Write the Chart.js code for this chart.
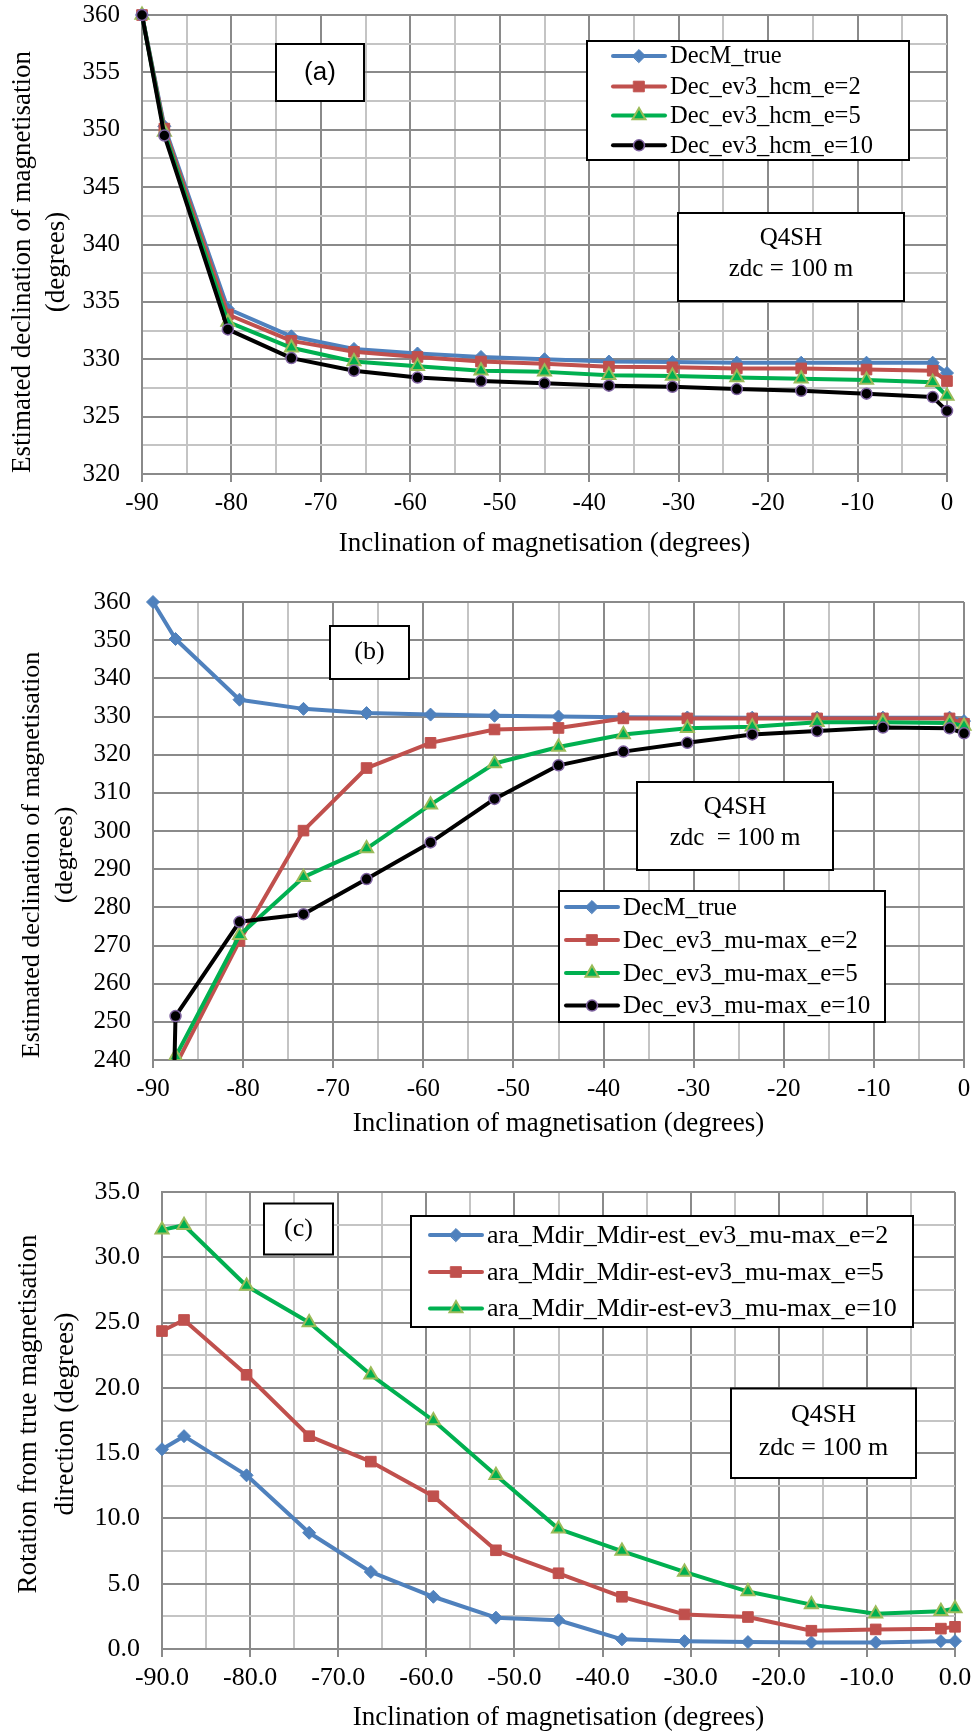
<!DOCTYPE html>
<html>
<head>
<meta charset="utf-8">
<script src="https://cdn.jsdelivr.net/npm/chart.js"></script>
<style>
  body { margin: 0; background: #fff; }
  .wrap { position: relative; width: 975px; height: 1734px; }
  canvas { position: absolute; left: 0; }
</style>
</head>
<body>
<div class="wrap">
  <canvas id="chartA" width="975" height="560" style="top:0"></canvas>
  <canvas id="chartB" width="975" height="580" style="top:560px"></canvas>
  <canvas id="chartC" width="975" height="594" style="top:1140px"></canvas>
</div>
<script>
// inclination of magnetisation, shared by all panels
const inclination = [-90, -87.5, -80.4, -73.3, -66.3, -59.2, -52.1, -45, -37.8, -30.7, -23.5, -16.3, -9.0, -1.6, 0];

// panel (a) - declination, hcm
const decTrue = [360, 350.3, 334.4, 332.0, 330.9, 330.5, 330.2, 330.0, 329.8, 329.75, 329.7, 329.7, 329.7, 329.7, 328.8];
const hcmE2   = [360, 350.1, 333.9, 331.6, 330.65, 330.2, 329.8, 329.6, 329.35, 329.3, 329.2, 329.2, 329.1, 329.0, 328.1];
const hcmE5   = [360, 349.8, 333.25, 331.0, 329.8, 329.4, 329.0, 328.9, 328.6, 328.55, 328.4, 328.3, 328.2, 328.0, 326.8];
const hcmE10  = [360, 349.5, 332.6, 330.1, 329.0, 328.4, 328.1, 327.9, 327.7, 327.6, 327.4, 327.25, 327.0, 326.7, 325.5];

// panel (b) - declination, mu-max
const muE2  = [0, 238.5, 271.2, 300.1, 316.5, 323.1, 326.6, 327.0, 329.5, 329.5, 329.5, 329.5, 329.5, 329.5, 328.1];
const muE5  = [0, 240.9, 272.7, 287.9, 295.4, 306.9, 317.7, 322.0, 325.3, 326.9, 327.3, 328.5, 328.5, 328.3, 327.5];
const muE10 = [0, 251.5, 276.2, 278.2, 287.4, 297.0, 308.4, 317.2, 320.8, 323.1, 325.3, 326.2, 327.1, 326.9, 325.6];

// panel (c) - rotation from true direction
const araE2  = [15.3, 16.3, 13.3, 8.9, 5.9, 4.0, 2.4, 2.2, 0.74, 0.6, 0.53, 0.5, 0.5, 0.6, 0.6];
const araE5  = [24.35, 25.2, 21.0, 16.3, 14.35, 11.7, 7.56, 5.8, 4.0, 2.65, 2.45, 1.4, 1.5, 1.56, 1.7];
const araE10 = [32.1, 32.45, 27.8, 25.0, 21.0, 17.5, 13.3, 9.2, 7.5, 5.9, 4.4, 3.4, 2.7, 2.9, 3.1];

const SERIF = '"Liberation Serif", "Times New Roman", serif';
const MAJOR = '#8a8a8a';
const MINOR = '#c4c4c4';

const styles = {
  blue:  { color: '#4F81BD', pointStyle: 'rectRot', radius: 6.5, fill: '#4F81BD', edge: '#4F81BD', edgeW: 1, order: 4 },
  red:   { color: '#C0504D', pointStyle: 'rect', radius: 7.5, fill: '#C0504D', edge: '#C0504D', edgeW: 1, order: 3 },
  green: { color: '#00B050', pointStyle: 'triangle', radius: 7.5, fill: '#00B050', edge: '#9BBB59', edgeW: 2, order: 2 },
  black: { color: '#000000', pointStyle: 'circle', radius: 5.5, fill: '#000000', edge: '#8064A2', edgeW: 1.5, order: 1 }
};

function series(label, values, kind, clip) {
  const s = styles[kind];
  return {
    label: label,
    data: values.map((v, i) => ({ x: inclination[i], y: v })),
    borderColor: s.color,
    backgroundColor: s.fill,
    borderWidth: 4,
    borderJoinStyle: 'round',
    borderCapStyle: 'round',
    tension: 0,
    pointStyle: s.pointStyle,
    pointRadius: s.radius,
    pointBackgroundColor: s.fill,
    pointBorderColor: s.edge,
    pointBorderWidth: s.edgeW,
    order: s.order,
    clip: clip
  };
}

function xAxis(decimals, fontSize, height) {
  return {
    type: 'linear', min: -90, max: 0,
    ticks: {
      stepSize: 5, autoSkip: false, maxRotation: 0, padding: 6, color: '#000',
      font: { family: SERIF, size: fontSize },
      callback: v => v % 10 === 0 ? (decimals ? v.toFixed(1) : String(v)) : ''
    },
    grid: {
      color: c => c.tick && c.tick.value % 10 === 0 ? MAJOR : MINOR,
      lineWidth: 2, tickLength: 8,
      tickColor: c => c.tick && c.tick.value % 10 === 0 ? MAJOR : 'rgba(0,0,0,0)'
    },
    border: { color: MAJOR, width: 2 },
    title: {
      display: true, text: 'Inclination of magnetisation (degrees)', color: '#000',
      font: { family: SERIF, size: 27 }, padding: 0
    },
    afterFit: s => { s.height = height; s.paddingLeft = 0; s.paddingRight = 0; }
  };
}

function yAxis(min, max, step, major, decimals, fontSize, width) {
  return {
    type: 'linear', min: min, max: max,
    ticks: {
      stepSize: step, autoSkip: false, padding: 22, color: '#000',
      font: { family: SERIF, size: fontSize, lineHeight: 1 },
      callback: v => v % major === 0 ? (decimals ? v.toFixed(1) : String(v)) : ''
    },
    grid: {
      color: c => c.tick && c.tick.value % major === 0 ? MAJOR : MINOR,
      lineWidth: 2, drawTicks: false
    },
    border: { color: MAJOR, width: 2 },
    afterFit: s => { s.width = width; s.paddingTop = 0; s.paddingBottom = 0; }
  };
}

// boxes, legend and the two-line y title
const overlay = {
  id: 'overlay',
  afterDraw(chart, args, o) {
    const ctx = chart.ctx;
    ctx.save();
    ctx.textAlign = 'center';
    ctx.textBaseline = 'middle';
    ctx.fillStyle = '#000';

    // y title
    ctx.font = o.yTitle.size + 'px ' + SERIF;
    o.yTitle.lines.forEach((t, i) => {
      ctx.save();
      ctx.translate(o.yTitle.xs[i], o.yTitle.cy);
      ctx.rotate(-Math.PI / 2);
      ctx.fillText(t, 0, 0);
      ctx.restore();
    });

    // text boxes
    o.boxes.forEach(b => {
      ctx.fillStyle = '#fff';
      ctx.fillRect(b.x, b.y, b.w, b.h);
      ctx.strokeStyle = '#000';
      ctx.lineWidth = 2;
      ctx.strokeRect(b.x, b.y, b.w, b.h);
      ctx.fillStyle = '#000';
      ctx.font = b.font;
      b.lines.forEach((t, i) => ctx.fillText(t, b.x + b.w / 2, b.ys[i]));
    });

    // legend
    const L = o.legend;
    ctx.fillStyle = '#fff';
    ctx.fillRect(L.x, L.y, L.w, L.h);
    ctx.strokeStyle = '#000';
    ctx.lineWidth = 2;
    ctx.strokeRect(L.x, L.y, L.w, L.h);
    ctx.textAlign = 'left';
    ctx.font = L.size + 'px ' + SERIF;
    chart.data.datasets.forEach((ds, i) => {
      const y = L.rows[i];
      ctx.strokeStyle = ds.borderColor;
      ctx.lineWidth = ds.borderWidth;
      ctx.lineCap = 'round';
      ctx.beginPath();
      ctx.moveTo(L.x0, y);
      ctx.lineTo(L.x1, y);
      ctx.stroke();
      ctx.fillStyle = ds.pointBackgroundColor;
      ctx.strokeStyle = ds.pointBorderColor;
      ctx.lineWidth = ds.pointBorderWidth;
      Chart.helpers.drawPoint(ctx, {
        pointStyle: ds.pointStyle, radius: ds.pointRadius,
        borderWidth: ds.pointBorderWidth, rotation: 0
      }, (L.x0 + L.x1) / 2, y);
      ctx.fillStyle = '#000';
      ctx.fillText(ds.label, L.tx, y + 1);
    });
    ctx.restore();
  }
};

function makeChart(id, datasets, scales, padding, ov) {
  return new Chart(document.getElementById(id), {
    type: 'line',
    data: { datasets: datasets },
    options: {
      responsive: false,
      animation: false,
      devicePixelRatio: 1,
      layout: { padding: padding },
      scales: scales,
      plugins: { legend: { display: false }, tooltip: { enabled: false }, overlay: ov }
    },
    plugins: [overlay]
  });
}

// (a)
makeChart('chartA', [
  series('DecM_true', decTrue, 'blue', false),
  series('Dec_ev3_hcm_e=2', hcmE2, 'red', false),
  series('Dec_ev3_hcm_e=5', hcmE5, 'green', false),
  series('Dec_ev3_hcm_e=10', hcmE10, 'black', false)
], {
  x: xAxis(false, 25, 86),
  y: yAxis(320, 360, 2.5, 5, false, 25, 142)
}, { top: 15, right: 28, left: 0, bottom: 0 }, {
  yTitle: { lines: ['Estimated declination of magnetisation', '(degrees)'], xs: [22.5, 57], cy: 262, size: 27 },
  boxes: [
    { x: 276, y: 44, w: 88, h: 57, lines: ['(a)'], ys: [72.5], font: '26px "Liberation Sans", Arial, sans-serif' },
    { x: 678, y: 213, w: 226, h: 88, lines: ['Q4SH', 'zdc = 100 m'], ys: [238, 269], font: '25px ' + SERIF }
  ],
  legend: { x: 587, y: 41, w: 322, h: 119, rows: [56, 86.5, 115.5, 145.3], x0: 613, x1: 665, tx: 670, size: 24.5 }
});

// (b)
const clipB = { left: 20, top: 20, right: 20, bottom: 0 };
makeChart('chartB', [
  series('DecM_true', decTrue, 'blue', clipB),
  series('Dec_ev3_mu-max_e=2', muE2, 'red', clipB),
  series('Dec_ev3_mu-max_e=5', muE5, 'green', clipB),
  series('Dec_ev3_mu-max_e=10', muE10, 'black', clipB)
], {
  x: xAxis(false, 25, 80),
  y: yAxis(240, 360, 10, 10, false, 25, 153)
}, { top: 42, right: 11, left: 0, bottom: 0 }, {
  yTitle: { lines: ['Estimated declination of magnetisation', '(degrees)'], xs: [32, 65], cy: 295, size: 26 },
  boxes: [
    { x: 330, y: 66, w: 79, h: 53, lines: ['(b)'], ys: [92.5], font: '26px ' + SERIF },
    { x: 637, y: 222, w: 196, h: 88, lines: ['Q4SH', 'zdc  = 100 m'], ys: [247.5, 278], font: '25px ' + SERIF }
  ],
  legend: { x: 559, y: 331, w: 326, h: 131, rows: [347, 380, 413, 445.6], x0: 566, x1: 618, tx: 623, size: 25 }
});

// (c)
makeChart('chartC', [
  series('ara_Mdir_Mdir-est_ev3_mu-max_e=2', araE2, 'blue', false),
  series('ara_Mdir_Mdir-est-ev3_mu-max_e=5', araE5, 'red', false),
  series('ara_Mdir_Mdir-est-ev3_mu-max_e=10', araE10, 'green', false)
], {
  x: xAxis(true, 26, 85),
  y: yAxis(0, 35, 2.5, 5, true, 26, 162)
}, { top: 52, right: 20, left: 0, bottom: 0 }, {
  yTitle: { lines: ['Rotation from true magnetisation', 'direction (degrees)'], xs: [29, 66], cy: 274, size: 27 },
  boxes: [
    { x: 264, y: 63.5, w: 69, h: 51, lines: ['(c)'], ys: [89], font: '26px ' + SERIF },
    { x: 731, y: 248.5, w: 185, h: 89.5, lines: ['Q4SH', 'zdc = 100 m'], ys: [275.5, 308.5], font: '26px ' + SERIF }
  ],
  legend: { x: 411, y: 76, w: 502, h: 111, rows: [95, 132, 168.4], x0: 430, x1: 482, tx: 487, size: 26 }
});
</script>
</body>
</html>
